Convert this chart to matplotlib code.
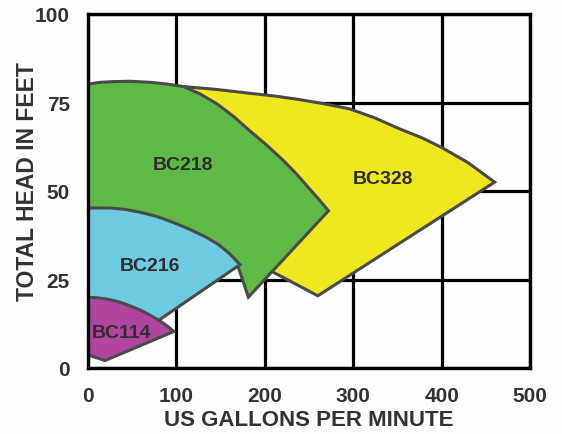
import matplotlib
matplotlib.use('Agg')
from matplotlib import pyplot as plt
from matplotlib.patches import Polygon

plt.rcParams['font.family'] = ['Liberation Sans', 'DejaVu Sans']

# pump envelopes: outline traced as (gallons per minute, total head in feet)
bc328_gpm = [0, 0, 60, 108, 145, 183, 212, 240, 268, 296, 325, 353, 378, 400, 430, 460,
             260, 210, 195, 150, 0]
bc328_head = [60, 78, 79.6, 79.5, 78.7, 77.6, 76.8, 75.8, 74.6, 73.2, 70.6, 67.5, 65, 62.3, 58, 52.5,
              20.4, 27, 30, 45, 60]

bc218_gpm = [0, 0, 14, 28, 48, 70, 90, 108, 127, 146, 165, 183, 202, 221, 237, 251, 262, 272,
             181.4, 170, 155, 135, 100, 50, 0]
bc218_head = [42, 80.2, 80.7, 80.9, 81, 80.7, 80.2, 79.5, 77.4, 74.6, 71, 67, 63, 58.6, 54.5, 50.5, 47.4, 44.4,
              20, 28.5, 32, 35, 38.5, 41, 42]

bc216_gpm = [0, 0, 25, 42, 59, 78, 96.5, 115, 134, 148, 160.6, 172, 79.5, 50, 0]
bc216_head = [15, 45.2, 45.2, 44.8, 44, 42.8, 41.1, 39.2, 36.9, 34.8, 32.2, 29.2, 13.4, 14.3, 15]

bc114_gpm = [0, 0, 12, 25, 36, 47, 57, 66, 74, 82, 90, 97, 19.2, 0]
bc114_head = [3.7, 20, 19.8, 19.3, 18.6, 17.6, 16.6, 15.5, 14.4, 13.2, 11.8, 10.3, 2.1, 3.7]

models = ['BC328', 'BC218', 'BC216', 'BC114']
colors = ['#f0e81e', '#5fb946', '#6dcae0', '#b0449f']
label_gpm = [334, 108, 70, 38]
label_head = [53.5, 57.5, 29, 10]

x_ticks = [0, 100, 200, 300, 400, 500]
y_ticks = [0, 25, 50, 75, 100]

fig = plt.figure(figsize=(5.62, 4.35), dpi=100, facecolor='#fdfdfd')
ax = fig.add_axes([88 / 562, 1 - 369 / 435, 442 / 562, 354 / 435])
ax.set_facecolor('#fdfdfd')

outlines = [(bc328_gpm, bc328_head), (bc218_gpm, bc218_head),
            (bc216_gpm, bc216_head), (bc114_gpm, bc114_head)]

for i, (gx, gy) in enumerate(outlines):
    poly = Polygon(list(zip(gx, gy)), closed=True, facecolor=colors[i],
                   edgecolor='#4a4a4a', linewidth=2.2, joinstyle='miter',
                   zorder=2 + i)
    ax.add_patch(poly)
    ax.text(label_gpm[i], label_head[i], models[i], ha='center', va='center',
            fontsize=14, fontweight='bold', color='#2e2e2e', zorder=10)

ax.set_xlim(0, 500)
ax.set_ylim(0, 100)
ax.set_xticks(x_ticks)
ax.set_yticks(y_ticks)
ax.grid(True, color='black', linewidth=2.3)
ax.set_axisbelow(True)
for s in ax.spines.values():
    s.set_linewidth(2.4)
    s.set_color('black')
    s.set_zorder(20)

ax.tick_params(length=0, labelsize=15, labelcolor='#333333', pad=13)
for lab in ax.get_xticklabels() + ax.get_yticklabels():
    lab.set_fontweight('bold')

ax.set_xlabel('US GALLONS PER MINUTE', fontsize=16, fontweight='bold',
              color='#333333')
ax.set_ylabel('TOTAL HEAD IN FEET', fontsize=16.5, fontweight='bold',
              color='#333333')
ax.xaxis.set_label_coords(0.5, -0.115)
ax.yaxis.set_label_coords(-0.11, 0.53)

fig.savefig('out.png', dpi=100, facecolor=fig.get_facecolor())
